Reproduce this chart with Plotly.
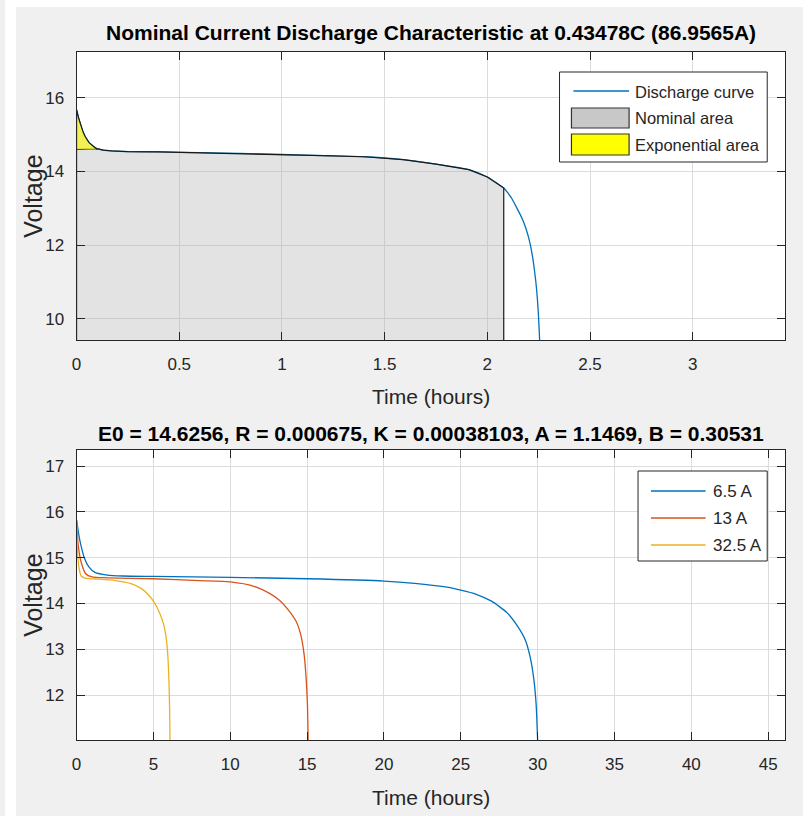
import plotly.graph_objects as go

# ---------------- data ----------------
top_title = "Nominal Current Discharge Characteristic at 0.43478C (86.9565A)"
bottom_title = "E0 = 14.6256, R = 0.000675, K = 0.00038103, A = 1.1469, B = 0.30531"
x_label = "Time (hours)"
y_label = "Voltage"

top_time = [0, 0.01, 0.02, 0.03, 0.04, 0.05, 0.06, 0.08, 0.10, 0.13, 0.17, 0.25,
            0.4, 0.6, 0.8, 1.0, 1.2, 1.4, 1.59, 1.75, 1.91, 2.0, 2.08, 2.10, 2.12,
            2.14, 2.17, 2.19, 2.206, 2.22, 2.23, 2.24, 2.248, 2.255]
top_voltage = [15.68, 15.45, 15.26, 15.1, 14.97, 14.87, 14.79, 14.69, 14.62, 14.58, 14.56, 14.54,
               14.53, 14.51, 14.49, 14.46, 14.43, 14.4, 14.32, 14.2, 14.05, 13.85, 13.55, 13.42, 13.26,
               13.05, 12.72, 12.42, 12.1, 11.7, 11.3, 10.8, 10.2, 9.4]
exp_end_time = 0.10
exp_level = 14.6
nominal_end_time = 2.08

top_legend_names = ["Discharge curve", "Nominal area", "Exponential area"]

t_6_5 = [0, 0.1, 0.2, 0.35, 0.5, 0.8, 1.2, 2, 3, 5, 10, 15, 20, 22, 24, 25, 26, 27,
         28, 28.7, 29.2, 29.5, 29.75, 29.9, 30.0]
v_6_5 = [15.82, 15.6, 15.4, 15.18, 15.0, 14.8, 14.68, 14.62, 14.6, 14.59, 14.57, 14.54,
         14.49, 14.44, 14.36, 14.29, 14.2, 14.05, 13.8, 13.5, 13.2, 12.85, 12.35, 11.8, 11.0]
t_13 = [0, 0.1, 0.3, 0.6, 1, 2, 5, 8, 10, 11.5, 12.5, 13.2, 13.8, 14.3, 14.6, 14.8, 14.93,
        15.02, 15.07]
v_13 = [15.82, 15.3, 14.9, 14.65, 14.58, 14.56, 14.54, 14.5, 14.47, 14.38, 14.23, 14.07,
        13.85, 13.6, 13.3, 12.9, 12.4, 11.8, 11.0]
t_32_5 = [0, 0.05, 0.15, 0.3, 0.6, 1.5, 2.5, 3.5, 4.2, 4.7, 5.0, 5.4, 5.7, 5.85, 5.95, 6.02,
          6.06, 6.08]
v_32_5 = [15.82, 15.2, 14.8, 14.6, 14.55, 14.53, 14.5, 14.44, 14.33, 14.18, 14.05, 13.8,
          13.5, 13.2, 12.8, 12.2, 11.6, 11.0]
bottom_names = ["6.5 A", "13 A", "32.5 A"]
bottom_colors = ["#0072BD", "#D95319", "#EDB120"]

top_xticks = [0, 0.5, 1, 1.5, 2, 2.5, 3]
top_yticks = [10, 12, 14, 16]
bot_xticks = [0, 5, 10, 15, 20, 25, 30, 35, 40, 45]
bot_yticks = [12, 13, 14, 15, 16, 17]

top_xrange = [0, 3.45]
top_yrange = [9.43, 17.24]
bot_xrange = [0, 46.1]
bot_yrange = [11.02, 17.35]

# ---------------- layout helpers ----------------
W, H = 803, 816
def px(x):
    return x / W
def py(y):
    return 1 - y / H

FONT = "Liberation Sans, Arial, sans-serif"
AX = "#262626"

fig = go.Figure()

# ---- top subplot ----
fig.add_trace(go.Scatter(x=top_time, y=top_voltage, mode="lines",
                         line=dict(color="#0072BD", width=1.3, shape="spline", smoothing=0.6),
                         xaxis="x", yaxis="y", showlegend=False, name=top_legend_names[0]))

# nominal area polygon (from exponential end to nominal end, down to below the axis)
nom_x = [0, 0]
nom_y = [top_yrange[0] - 1, exp_level]
for t, v in zip(top_time, top_voltage):
    if exp_end_time <= t <= nominal_end_time:
        nom_x.append(t)
        nom_y.append(v)
nom_x += [nominal_end_time]
nom_y += [top_yrange[0] - 1]
fig.add_trace(go.Scatter(x=nom_x, y=nom_y, mode="lines", fill="toself",
                         fillcolor="rgba(175,175,175,0.35)",
                         line=dict(color="#1a1a1a", width=1.2),
                         xaxis="x", yaxis="y", showlegend=False, name=top_legend_names[1]))

# exponential area polygon
exp_x = [0]
exp_y = [exp_level]
for t, v in zip(top_time, top_voltage):
    if t <= exp_end_time:
        exp_x.append(t)
        exp_y.append(v)
exp_x += [exp_end_time]
exp_y += [exp_level]
fig.add_trace(go.Scatter(x=exp_x, y=exp_y, mode="lines", fill="toself",
                         fillcolor="rgba(238,238,40,0.8)",
                         line=dict(color="#1a1a1a", width=1.2),
                         xaxis="x", yaxis="y", showlegend=False, name=top_legend_names[2]))

# ---- bottom subplot ----
for tt, vv, nm, col in zip([t_6_5, t_13, t_32_5], [v_6_5, v_13, v_32_5], bottom_names, bottom_colors):
    fig.add_trace(go.Scatter(x=tt, y=vv, mode="lines",
                             line=dict(color=col, width=1.3, shape="spline", smoothing=0.6),
                             xaxis="x2", yaxis="y2", showlegend=False, name=nm))

axis_common = dict(showline=True, linecolor=AX, linewidth=1, mirror="ticks",
                   ticks="inside", ticklen=8, tickcolor=AX, tickwidth=1,
                   showgrid=True, gridcolor="#dcdcdc", gridwidth=1, zeroline=False,
                   tickfont=dict(family=FONT, size=17, color=AX))

fig.update_layout(
    width=W, height=H,
    margin=dict(l=0, r=0, t=0, b=0),
    paper_bgcolor="#f0f0f0", plot_bgcolor="white",
    showlegend=False,
    xaxis=dict(domain=[px(72), px(785)], range=top_xrange, tickvals=top_xticks,
               anchor="y", ticklabelstandoff=9, **axis_common),
    yaxis=dict(domain=[py(340), py(52)], range=top_yrange, tickvals=top_yticks,
               anchor="x", ticklabelstandoff=8, **axis_common),
    xaxis2=dict(domain=[px(72), px(785)], range=bot_xrange, tickvals=bot_xticks,
                anchor="y2", ticklabelstandoff=9, **axis_common),
    yaxis2=dict(domain=[py(740), py(450)], range=bot_yrange, tickvals=bot_yticks,
                anchor="x2", ticklabelstandoff=8, **axis_common),
)

shapes = []
annotations = []

# white border strips of the screenshot
shapes.append(dict(type="rect", xref="paper", yref="paper", x0=0, x1=1, y0=py(7), y1=1,
                   fillcolor="white", line=dict(width=0), layer="above"))
shapes.append(dict(type="rect", xref="paper", yref="paper", x0=0, x1=px(11), y0=0, y1=1,
                   fillcolor="white", line=dict(width=0), layer="above"))

# titles and labels
def text(x, y, s, size, bold=False, angle=0, xanchor="center", color="black"):
    annotations.append(dict(x=px(x), y=py(y), xref="paper", yref="paper", text=("<b>%s</b>" % s) if bold else s,
                            showarrow=False, xanchor=xanchor, yanchor="middle", textangle=angle,
                            font=dict(family=FONT, size=size, color=color)))

text(428.5, 33, top_title, 21, bold=True)
text(428.5, 433, bottom_title, 21, bold=True)
text(428.5, 396, x_label, 21, color=AX)
text(428.5, 797, x_label, 21, color=AX)
text(28, 196, y_label, 25, angle=-90, color=AX)
text(28, 595, y_label, 25, angle=-90, color=AX)

# top legend box
shapes.append(dict(type="rect", xref="paper", yref="paper", x0=px(558), x1=px(767), y0=py(162), y1=py(72),
                   fillcolor="white", line=dict(color=AX, width=1), layer="above"))
shapes.append(dict(type="line", xref="paper", yref="paper", x0=px(572), x1=px(628), y0=py(91), y1=py(91),
                   line=dict(color="#0072BD", width=1.3), layer="above"))
shapes.append(dict(type="rect", xref="paper", yref="paper", x0=px(570), x1=px(628), y0=py(128), y1=py(108),
                   fillcolor="#c8c8c8", line=dict(color="#333333", width=1.2), layer="above"))
shapes.append(dict(type="rect", xref="paper", yref="paper", x0=px(570), x1=px(628), y0=py(155), y1=py(134),
                   fillcolor="#ffff00", line=dict(color="#333333", width=1.2), layer="above"))
for s, yy in zip(top_legend_names, [92, 118, 145]):
    text(632, yy, s, 16.5, xanchor="left", color=AX)

# bottom legend box
shapes.append(dict(type="rect", xref="paper", yref="paper", x0=px(637), x1=px(767), y0=py(561), y1=py(471),
                   fillcolor="white", line=dict(color=AX, width=1), layer="above"))
for s, col, yy in zip(bottom_names, bottom_colors, [491, 518, 545]):
    shapes.append(dict(type="line", xref="paper", yref="paper", x0=px(650), x1=px(705), y0=py(yy), y1=py(yy),
                       line=dict(color=col, width=1.3), layer="above"))
    text(710, yy, s, 17, xanchor="left", color=AX)

fig.update_layout(shapes=shapes, annotations=annotations)
fig.write_html("out.html")
